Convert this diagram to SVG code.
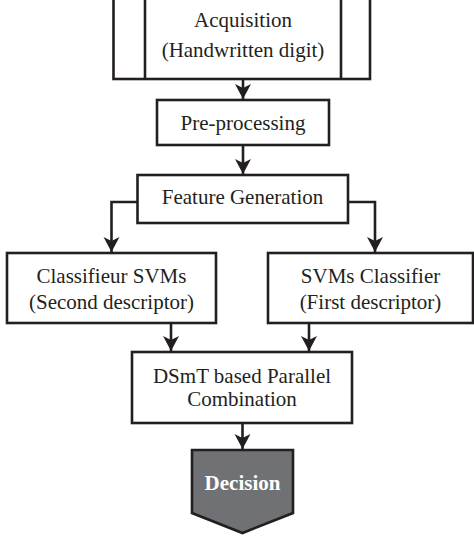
<svg xmlns="http://www.w3.org/2000/svg" width="474" height="539" viewBox="0 0 474 539">
<style>
.box{fill:#fff;stroke:#231f20;stroke-width:2.6}
.t{font-family:"Liberation Serif","Times New Roman",serif;font-size:21px;fill:#231f20;text-anchor:middle}
.b{font-family:"Liberation Serif","Times New Roman",serif;font-size:21px;font-weight:bold;fill:#fff;text-anchor:middle}
.c{fill:none;stroke:#231f20;stroke-width:2.6}
</style>
<defs>
<marker id="ah" markerUnits="userSpaceOnUse" markerWidth="18" markerHeight="18" refX="15" refY="8" orient="auto" viewBox="0 0 18 16">
<path d="M0,0 L15,8 L0,16 L4,8 Z" fill="#231f20"/>
</marker>
</defs>
<rect width="474" height="539" fill="#fff"/>
<g id="acquisition">
<rect class="box" x="113.5" y="-5" width="256.5" height="84"/>
<line class="c" x1="145" y1="-5" x2="145" y2="79"/>
<line class="c" x1="341" y1="-5" x2="341" y2="79"/>
<text class="t" x="243" y="27">Acquisition</text>
<text class="t" x="243" y="57">(Handwritten digit)</text>
</g>
<g id="preprocessing">
<rect class="box" x="157" y="100" width="172" height="45"/>
<text class="t" x="243" y="130">Pre-processing</text>
</g>
<g id="feature">
<rect class="box" x="137.5" y="175" width="210.5" height="48"/>
<text class="t" x="242.5" y="204">Feature Generation</text>
</g>
<g id="classifier-left">
<rect class="box" x="7" y="253" width="209" height="70"/>
<text class="t" x="111.5" y="283">Classifieur SVMs</text>
<text class="t" x="111.5" y="309">(Second descriptor)</text>
</g>
<g id="classifier-right">
<rect class="box" x="268" y="253" width="205" height="70"/>
<text class="t" x="370.5" y="283">SVMs Classifier</text>
<text class="t" x="370.5" y="309">(First descriptor)</text>
</g>
<g id="dsmt">
<rect class="box" x="132" y="352" width="220" height="71"/>
<text class="t" x="242" y="383">DSmT based Parallel</text>
<text class="t" x="242" y="406">Combination</text>
</g>
<g id="decision">
<polygon points="192,450 293,450 293,513 242.5,533 192,513" fill="#707174" stroke="#231f20" stroke-width="2.6"/>
<text class="b" x="242.5" y="490">Decision</text>
</g>
<g id="connectors">
<line class="c" x1="243" y1="79" x2="243" y2="99" marker-end="url(#ah)"/>
<line class="c" x1="243" y1="145" x2="243" y2="174" marker-end="url(#ah)"/>
<polyline class="c" points="137.5,202 111.5,202 111.5,252" marker-end="url(#ah)"/>
<polyline class="c" points="348,202 375,202 375,252" marker-end="url(#ah)"/>
<line class="c" x1="171" y1="323" x2="171" y2="351" marker-end="url(#ah)"/>
<line class="c" x1="309" y1="323" x2="309" y2="351" marker-end="url(#ah)"/>
<line class="c" x1="242.5" y1="423" x2="242.5" y2="449" marker-end="url(#ah)"/>
</g>
</svg>
